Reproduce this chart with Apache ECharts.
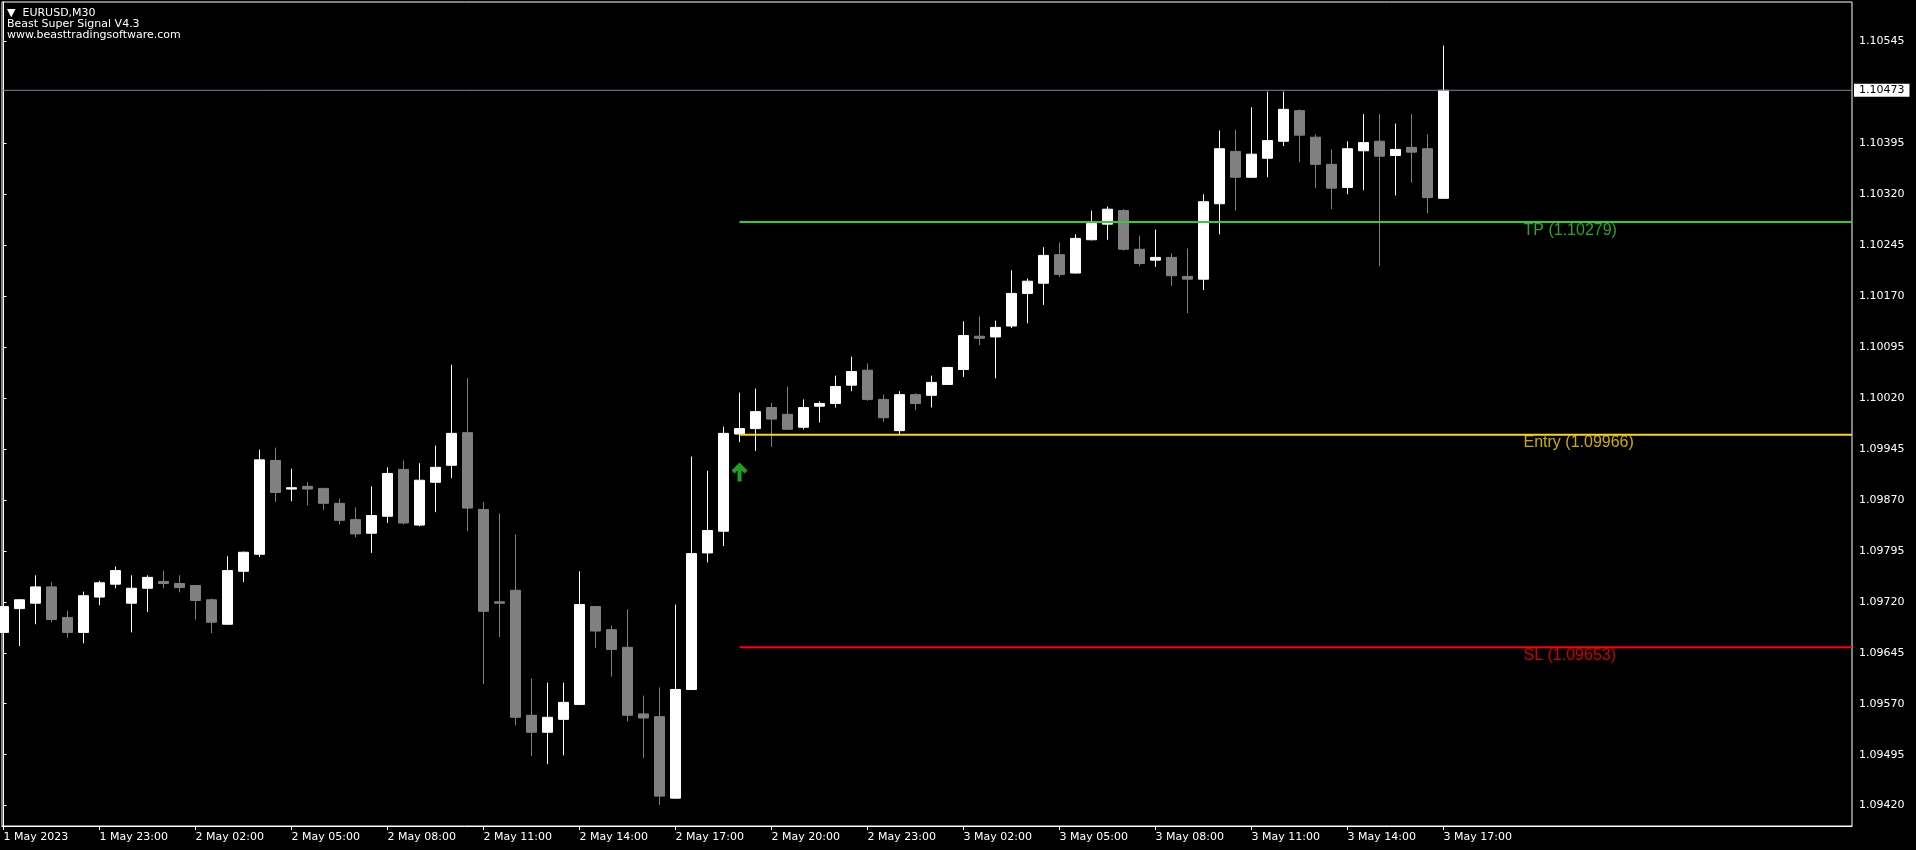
<!DOCTYPE html>
<html>
<head>
<meta charset="utf-8">
<title>EURUSD,M30</title>
<script src="https://cdn.jsdelivr.net/npm/echarts@6.0.0/dist/echarts.min.js"></script>
<style>
  html, body { margin: 0; padding: 0; background: #000; }
  #chart { width: 1916px; height: 850px; }
</style>
</head>
<body>
<div id="chart"></div>
<script>
// EURUSD M30, 1 May 2023 20:00 .. 3 May 17:00 (91 bars)
const opens = [
  1.09675, 1.09710, 1.09718, 1.09742, 1.09697, 1.09675, 1.09727, 1.09746, 1.09718, 1.09740,
  1.09750, 1.09747, 1.09744, 1.09723, 1.09687, 1.09765, 1.09790, 1.09928, 1.09886, 1.09890,
  1.09887, 1.09865, 1.09841, 1.09821, 1.09846, 1.09915, 1.09833, 1.09896, 1.09921, 1.09969,
  1.09856, 1.09720, 1.09737, 1.09553, 1.09528, 1.09547, 1.09569, 1.09713, 1.09679, 1.09653,
  1.09555, 1.09551, 1.09431, 1.09591, 1.09792, 1.09824, 1.09967, 1.09975, 1.10006, 1.09996,
  1.09977, 1.10008, 1.10012, 1.10039, 1.10061, 1.10018, 1.09972, 1.10025, 1.10024, 1.10040,
  1.10062, 1.10111, 1.10110, 1.10126, 1.10174, 1.10189, 1.10231, 1.10204, 1.10253, 1.10276,
  1.10296, 1.10239, 1.10223, 1.10227, 1.10199, 1.10195, 1.10306, 1.10383, 1.10345, 1.10373,
  1.10398, 1.10443, 1.10404, 1.10364, 1.10330, 1.10384, 1.10398, 1.10377, 1.10389, 1.10387,
  1.10314
]
const closes = [
  1.09713, 1.09723, 1.09742, 1.09694, 1.09675, 1.09729, 1.09748, 1.09766, 1.09740, 1.09756,
  1.09747, 1.09741, 1.09722, 1.09690, 1.09766, 1.09793, 1.09929, 1.09881, 1.09888, 1.09886,
  1.09865, 1.09840, 1.09820, 1.09847, 1.09909, 1.09836, 1.09899, 1.09918, 1.09968, 1.09858,
  1.09706, 1.09718, 1.09550, 1.09528, 1.09550, 1.09572, 1.09716, 1.09677, 1.09650, 1.09553,
  1.09549, 1.09434, 1.09591, 1.09791, 1.09825, 1.09968, 1.09975, 1.10000, 1.09989, 1.09974,
  1.10006, 1.10012, 1.10037, 1.10059, 1.10018, 1.09991, 1.10025, 1.10012, 1.10043, 1.10065,
  1.10112, 1.10108, 1.10124, 1.10174, 1.10192, 1.10230, 1.10202, 1.10255, 1.10277, 1.10298,
  1.10239, 1.10218, 1.10227, 1.10200, 1.10195, 1.10309, 1.10387, 1.10345, 1.10379, 1.10399,
  1.10445, 1.10407, 1.10364, 1.10329, 1.10387, 1.10396, 1.10376, 1.10386, 1.10382, 1.10315,
  1.10473
]
const highs = [
  1.09717, 1.09724, 1.09759, 1.09749, 1.09707, 1.09735, 1.09751, 1.09772, 1.09759, 1.09759,
  1.09766, 1.09759, 1.09745, 1.09725, 1.09787, 1.09794, 1.09944, 1.09947, 1.09916, 1.09896,
  1.09887, 1.09872, 1.09859, 1.09890, 1.09918, 1.09928, 1.09924, 1.09950, 1.10069, 1.10049,
  1.09867, 1.09850, 1.09819, 1.09607, 1.09601, 1.09601, 1.09765, 1.09713, 1.09685, 1.09709,
  1.09582, 1.09594, 1.09716, 1.09934, 1.09913, 1.09978, 1.10028, 1.10034, 1.10013, 1.10037,
  1.10018, 1.10015, 1.10053, 1.10081, 1.10071, 1.10025, 1.10030, 1.10027, 1.10053, 1.10066,
  1.10133, 1.10140, 1.10134, 1.10208, 1.10196, 1.10242, 1.10249, 1.10261, 1.10296, 1.10302,
  1.10298, 1.10259, 1.10268, 1.10233, 1.10240, 1.10320, 1.10414, 1.10415, 1.10448, 1.10471,
  1.10471, 1.10445, 1.10408, 1.10386, 1.10398, 1.10438, 1.10438, 1.10424, 1.10438, 1.10408,
  1.10539
]
const lows = [
  1.09664, 1.09655, 1.09687, 1.09690, 1.09667, 1.09659, 1.09715, 1.09740, 1.09675, 1.09705,
  1.09740, 1.09734, 1.09694, 1.09674, 1.09686, 1.09749, 1.09786, 1.09867, 1.09868, 1.09862,
  1.09855, 1.09834, 1.09815, 1.09792, 1.09836, 1.09834, 1.09831, 1.09852, 1.09902, 1.09824,
  1.09599, 1.09668, 1.09538, 1.09493, 1.09481, 1.09494, 1.09568, 1.09652, 1.09610, 1.09544,
  1.09490, 1.09421, 1.09430, 1.09590, 1.09778, 1.09802, 1.09955, 1.09942, 1.09948, 1.09974,
  1.09974, 1.09984, 1.10006, 1.10030, 1.10016, 1.09985, 1.09966, 1.10002, 1.10006, 1.10040,
  1.10051, 1.10098, 1.10049, 1.10123, 1.10130, 1.10157, 1.10198, 1.10203, 1.10252, 1.10253,
  1.10237, 1.10214, 1.10213, 1.10185, 1.10145, 1.10179, 1.10261, 1.10296, 1.10345, 1.10345,
  1.10391, 1.10367, 1.10329, 1.10298, 1.10320, 1.10326, 1.10214, 1.10318, 1.10337, 1.10292,
  1.10314
]

// one time label every 6 bars (3 hours)
const timeLabels = [
  '1 May 2023', '1 May 23:00', '2 May 02:00', '2 May 05:00', '2 May 08:00', '2 May 11:00',
  '2 May 14:00', '2 May 17:00', '2 May 20:00', '2 May 23:00', '3 May 02:00', '3 May 05:00',
  '3 May 08:00', '3 May 11:00', '3 May 14:00', '3 May 17:00'
]
const labelStep = 6

const priceTicks = [
  1.09420, 1.09495, 1.09570, 1.09645, 1.09720, 1.09795, 1.09870, 1.09945,
  1.10020, 1.10095, 1.10170, 1.10245, 1.10320, 1.10395, 1.10545
]

// Beast Super Signal: buy arrow and trade levels
const signalBar = 46
const signalArrowPrice = 1.09911
const levelNames = ['TP', 'Entry', 'SL']
const levelValues = [1.10279, 1.09966, 1.09653]
const levelColors = ['#32cd32', '#ffd700', '#ff0000']

const infoLines = ['\u25bc  EURUSD,M30', 'Beast Super Signal V4.3', 'www.beasttradingsoftware.com']

// view window (in bars / price)
const xMin = -0.094
const xMax = 115.53
const yMin = 1.09390
const yMax = 1.10603
const levelLabelBar = 95

const font = 'DejaVu Sans'
const candles = opens.map((o, i) => [i, o, closes[i], lows[i], highs[i]])
const lastClose = closes[closes.length - 1]

const chart = echarts.init(document.getElementById('chart'))

const levelSeries = []
levelValues.forEach((v, k) => {
  levelSeries.push({
    type: 'line',
    name: levelNames[k],
    data: [[signalBar, v], [xMax, v]],
    symbol: 'none',
    z: 5,
    lineStyle: { color: levelColors[k], width: 2 }
  })
  levelSeries.push({
    type: 'scatter',
    name: levelNames[k] + ' label',
    data: [[levelLabelBar, v]],
    symbolSize: 0,
    z: 6,
    label: {
      show: true,
      position: [0, 0],
      formatter: levelNames[k] + ' (' + v.toFixed(5) + ')',
      color: levelColors[k],
      fontFamily: 'Liberation Sans',
      fontSize: 16
    }
  })
})

chart.setOption({
  backgroundColor: '#000',
  animation: false,
  title: {
    text: infoLines.join('\n'),
    left: 7,
    top: 8,
    padding: 0,
    textStyle: {
      color: '#fff',
      fontFamily: font,
      fontSize: 11,
      fontWeight: 'normal',
      lineHeight: 11
    }
  },
  grid: {
    left: 2,
    right: 64,
    top: 2,
    bottom: 24,
    show: true,
    borderColor: '#fff',
    borderWidth: 1,
    backgroundColor: '#000'
  },
  xAxis: {
    type: 'value',
    min: xMin,
    max: xMax,
    splitLine: { show: false },
    axisLine: { lineStyle: { color: '#fff', width: 1 } },
    axisTick: {
      customValues: timeLabels.map((t, k) => k * labelStep),
      length: 4,
      lineStyle: { color: '#fff' }
    },
    axisLabel: {
      customValues: timeLabels.map((t, k) => k * labelStep),
      formatter: (v) => timeLabels[Math.round(v / labelStep)],
      align: 'left',
      margin: 6,
      color: '#fff',
      fontFamily: font,
      fontSize: 11
    }
  },
  yAxis: {
    type: 'value',
    position: 'right',
    min: yMin,
    max: yMax,
    splitLine: { show: false },
    axisLine: { show: true, lineStyle: { color: '#fff', width: 1 } },
    axisTick: {
      show: true,
      customValues: priceTicks,
      length: 3,
      lineStyle: { color: '#fff' }
    },
    axisLabel: {
      customValues: priceTicks,
      formatter: (v) => v.toFixed(5),
      margin: 7,
      color: '#fff',
      fontFamily: font,
      fontSize: 11
    }
  },
  series: [
    {
      type: 'candlestick',
      name: 'EURUSD',
      data: candles,
      barWidth: 10,
      z: 2,
      itemStyle: {
        color: '#ffffff',
        color0: '#808080',
        borderColor: '#ffffff',
        borderColor0: '#808080',
        borderWidth: 1
      }
    },
    {
      // current bid line with price box on the axis
      type: 'line',
      name: 'bid',
      data: [[xMin, lastClose], [xMax, lastClose]],
      symbol: 'none',
      z: 4,
      lineStyle: { color: '#778899', width: 1 },
      endLabel: {
        show: true,
        distance: 2,
        formatter: () => lastClose.toFixed(5),
        backgroundColor: '#fff',
        color: '#000',
        padding: [1, 5, 1, 5],
        fontFamily: font,
        fontSize: 11
      }
    },
    {
      type: 'scatter',
      name: 'signal',
      data: [[signalBar, signalArrowPrice]],
      symbol: 'path://M8 0 L16 8 L13 11 L10 8 L10 19 L6 19 L6 8 L3 11 L0 8 Z',
      symbolSize: [16, 19],
      z: 6,
      itemStyle: { color: '#26c926' }
    }
  ].concat(levelSeries)
})
</script>
</body>
</html>
